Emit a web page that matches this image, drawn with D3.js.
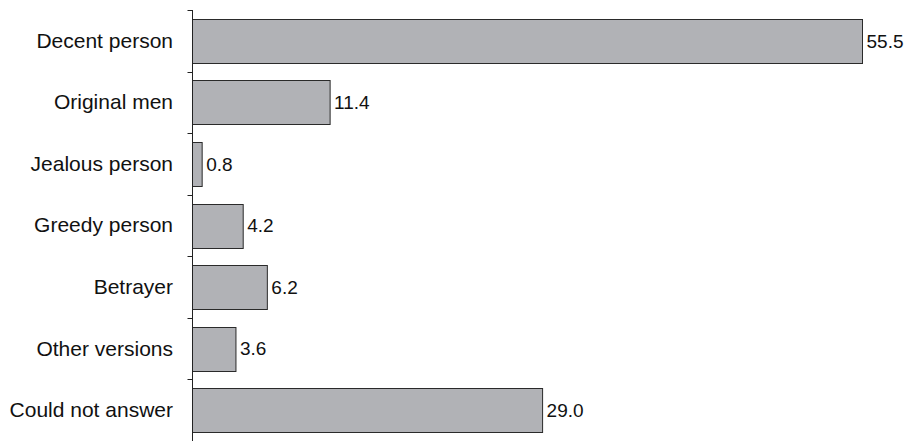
<!DOCTYPE html>
<html><head><meta charset="utf-8">
<script src="https://cdn.jsdelivr.net/npm/d3@7"></script>
<style>body{margin:0;background:#fff}svg{display:block}</style>
</head><body>
<script>
const categories = ["Decent person","Original men","Jealous person","Greedy person","Betrayer","Other versions","Could not answer"];
const values = [55.5, 11.4, 0.8, 4.2, 6.2, 3.6, 29.0];
const valueLabels = ["55.5","11.4","0.8","4.2","6.2","3.6","29.0"];

const W = 908, H = 441;
const svg = d3.select("body").append("svg").attr("width", W).attr("height", H);
const x0 = 192.5;
const x = d3.scaleLinear().domain([0, 55.5]).range([x0, 862.5]);
const y = d3.scaleBand().domain(categories).range([10, 441]).paddingInner(0.29).paddingOuter(0.145);

const font = "Liberation Sans, Arial, sans-serif";

svg.selectAll("rect.bar").data(categories).join("rect")
  .attr("class","bar")
  .attr("x", x0)
  .attr("y", d => Math.round(y(d)) + 0.5)
  .attr("width", (d,i) => x(values[i]) - x0)
  .attr("height", Math.round(y.bandwidth()))
  .attr("fill", "#b1b2b6")
  .attr("stroke", "#2a2a2a")
  .attr("stroke-width", 1);

const g = svg.append("g");
g.append("line").attr("x1", x0).attr("x2", x0).attr("y1", 10).attr("y2", 441)
  .attr("stroke", "#222").attr("stroke-width", 1);
const tickYs = d3.range(categories.length + 1).map(i => 10 + i * (431 / categories.length));
g.selectAll("line.tick").data(tickYs).join("line").attr("class","tick")
  .attr("x1", x0 - 5).attr("x2", x0).attr("y1", d => Math.round(d) + 0.5).attr("y2", d => Math.round(d) + 0.5)
  .attr("stroke", "#222").attr("stroke-width", 1);

svg.selectAll("text.cat").data(categories).join("text").attr("class","cat")
  .attr("x", 173).attr("y", d => y(d) + y.bandwidth()/2)
  .attr("dy", "0.33em").attr("text-anchor", "end")
  .attr("font-family", font).attr("font-size", 21).attr("fill", "#111")
  .text(d => d);

svg.selectAll("text.val").data(categories).join("text").attr("class","val")
  .attr("x", (d,i) => x(values[i]) + 4).attr("y", d => y(d) + y.bandwidth()/2)
  .attr("dy", "0.36em").attr("text-anchor", "start")
  .attr("font-family", font).attr("font-size", 19).attr("fill", "#111")
  .text((d,i) => valueLabels[i]);
</script>
</body></html>
